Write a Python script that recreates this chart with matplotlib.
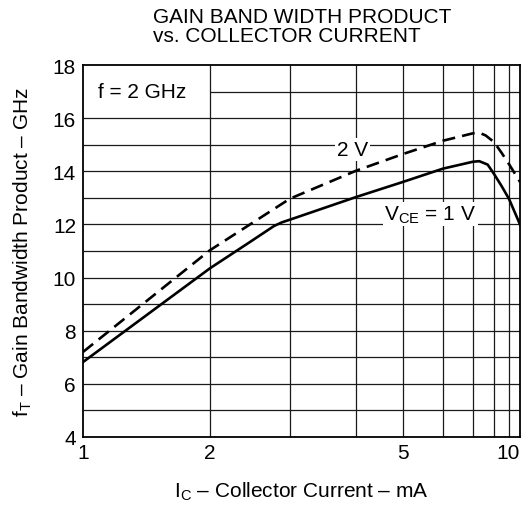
import numpy as np
import matplotlib
matplotlib.use("Agg")
import matplotlib.pyplot as plt

plt.rcParams['font.family'] = ['Liberation Sans', 'DejaVu Sans']
plt.rcParams['mathtext.fontset'] = 'custom'
plt.rcParams['mathtext.rm'] = 'Liberation Sans'

# ---- data ----
ic_1v = [1, 2, 2.5, 2.8, 2.9, 3, 4, 5, 6, 7, 7.3, 7.7, 8, 8.5, 9, 10]
ft_1v = [6.82, 10.35, 11.34, 11.94, 12.08, 12.18, 13.03, 13.6, 14.1, 14.36, 14.38, 14.25, 13.9, 13.45, 12.96, 12.0]

ic_2v = [1, 2, 3, 4, 5, 6, 7, 7.3, 7.6, 8, 8.5, 9, 10]
ft_2v = [7.2, 11.03, 12.97, 14.02, 14.65, 15.15, 15.43, 15.45, 15.35, 15.1, 14.7, 14.27, 13.6]

x_grid = [1, 2, 3, 4, 5, 6, 7, 8, 9, 10]
# relative positions of the (hand-drawn) log grid lines on the reference sheet
x_grid_frac = [0, 127, 207, 273, 320, 360, 390, 411, 426, 437]
x_ticks = [1, 2, 5, 10]
x_ticklabels = ['1', '2', '5', '10']
y_ticks = [4, 6, 8, 10, 12, 14, 16, 18]
y_grid = list(range(4, 19))

frac = np.array(x_grid_frac, dtype=float) / x_grid_frac[-1]
xg = np.array(x_grid, dtype=float)


def fwd(v):
    return np.interp(v, xg, frac)


def inv(u):
    return np.interp(u, frac, xg)


fig = plt.figure(figsize=(5.32, 5.06), dpi=100)
ax = fig.add_axes([83 / 532, 1 - 438 / 506, 437 / 532, 372 / 506])
ax.set_xscale('function', functions=(fwd, inv))
ax.set_xlim(1, 10)
ax.set_ylim(4, 18)

gc = '#1a1a1a'
glw = 0.9
# vertical grid
ax.vlines(x_grid[1:-1], 4, 18, colors=gc, linewidth=glw, zorder=1)
# horizontal grid (the 17 line is interrupted by the f = 2 GHz box)
for yv in y_grid[1:-1]:
    x0 = 2 if yv == 17 else 1
    ax.hlines(yv, x0, 10, colors=gc, linewidth=glw, zorder=1)

ax.plot(ic_1v, ft_1v, color='black', linewidth=1.9, zorder=3,
        solid_joinstyle='round')
ax.plot(ic_2v, ft_2v, color='black', linewidth=1.9, zorder=3,
        linestyle=(0, (4.9, 2.7)))

ax.text(1.118, 17.0, 'f = 2 GHz', fontsize=15, ha='left', va='center', zorder=4)
ax.text(3.95, 14.82, '2 V', fontsize=15, ha='center', va='center', zorder=4,
        bbox=dict(facecolor='white', edgecolor='none', pad=1.5))
ax.text(5.68, 12.39, r'V$_{\mathregular{CE}}$ = 1 V', fontsize=15, ha='center',
        va='center', zorder=4,
        bbox=dict(facecolor='white', edgecolor='none', pad=1.0))

ax.set_xticks(x_ticks)
ax.set_xticklabels(x_ticklabels)
ax.set_xticks([], minor=True)
ax.set_yticks(y_ticks)
ax.tick_params(axis='both', length=0, labelsize=15)
ax.tick_params(axis='x', pad=4.5)
ax.tick_params(axis='y', pad=5)
ax.get_xticklabels()[-1].set_horizontalalignment('right')

for s in ax.spines.values():
    s.set_linewidth(1.3)
    s.set_color('black')

ax.set_xlabel(r'I$_{\mathregular{C}}$ – Collector Current – mA', fontsize=15)
ax.set_ylabel(r'f$_{\mathregular{T}}$ – Gain Bandwidth Product – GHz', fontsize=15)
ax.xaxis.set_label_coords(0.5, -0.113)
ax.yaxis.set_label_coords(-0.113, 0.5)

fig.text(153 / 532, 1 - 8 / 506, 'GAIN BAND WIDTH PRODUCT\nvs. COLLECTOR CURRENT',
         fontsize=15, ha='left', va='top', linespacing=1.0)

fig.savefig('out.png', dpi=100)
